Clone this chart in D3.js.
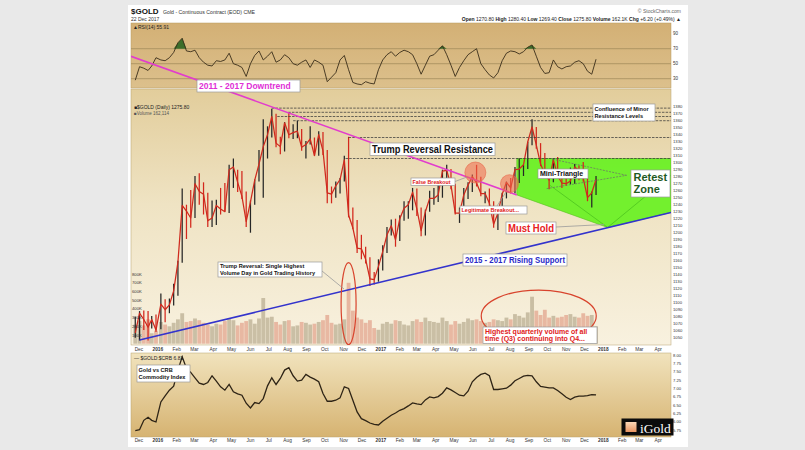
<!DOCTYPE html>
<html><head><meta charset="utf-8">
<script src="https://cdn.jsdelivr.net/npm/d3@7"></script>
<style>html,body{margin:0;padding:0;background:#e9e9e9;}svg{display:block;font-family:"Liberation Sans",Arial,sans-serif;}</style>
</head><body><svg id="c" width="805" height="450"></svg>
<script>
// ---------------- DATA (weekly) ----------------
const weeks = ["2015-11-27","2015-12-04","2015-12-11","2015-12-18","2015-12-24","2015-12-31",
"2016-01-08","2016-01-15","2016-01-22","2016-01-29","2016-02-05","2016-02-12","2016-02-19","2016-02-26",
"2016-03-04","2016-03-11","2016-03-18","2016-03-25","2016-04-01","2016-04-08","2016-04-15","2016-04-22","2016-04-29",
"2016-05-06","2016-05-13","2016-05-20","2016-05-27","2016-06-03","2016-06-10","2016-06-17","2016-06-24",
"2016-07-01","2016-07-08","2016-07-15","2016-07-22","2016-07-29","2016-08-05","2016-08-12","2016-08-19","2016-08-26",
"2016-09-02","2016-09-09","2016-09-16","2016-09-23","2016-09-30","2016-10-07","2016-10-14","2016-10-21","2016-10-28",
"2016-11-04","2016-11-11","2016-11-18","2016-11-25","2016-12-02","2016-12-09","2016-12-16","2016-12-23","2016-12-30",
"2017-01-06","2017-01-13","2017-01-20","2017-01-27","2017-02-03","2017-02-10","2017-02-17","2017-02-24",
"2017-03-03","2017-03-10","2017-03-17","2017-03-24","2017-03-31","2017-04-07","2017-04-14","2017-04-21","2017-04-28",
"2017-05-05","2017-05-12","2017-05-19","2017-05-26","2017-06-02","2017-06-09","2017-06-16","2017-06-23","2017-06-30",
"2017-07-07","2017-07-14","2017-07-21","2017-07-28","2017-08-04","2017-08-11","2017-08-18","2017-08-25",
"2017-09-01","2017-09-08","2017-09-15","2017-09-22","2017-09-29","2017-10-06","2017-10-13","2017-10-20","2017-10-27",
"2017-11-03","2017-11-10","2017-11-17","2017-11-24","2017-12-01","2017-12-08","2017-12-15","2017-12-22"];

const priceHigh = [1080,1088,1089,1088,1081,1083,
1113,1105,1106,1127,1160,1263,1240,1261,1281,1285,1272,1257,1246,1247,1264,1271,1297,1306,1290,1288,1259,1246,1276,1318,1362,
1352,1377,1370,1337,1358,1372,1355,1360,1348,1331,1352,1336,1345,1344,1318,1266,1273,1278,1310,1337,1236,1218,1197,1180,1165,1144,1162,
1182,1208,1219,1220,1225,1245,1245,1264,1263,1236,1233,1260,1264,1274,1290,1297,1291,1270,1236,1264,1272,1283,1297,1280,1259,1263,
1245,1233,1257,1273,1278,1294,1306,1297,1330,1362,1351,1328,1314,1287,1306,1308,1285,1289,1293,1298,1296,1301,1280,1259,1281];
const priceLow = [1050,1046,1061,1046,1063,1058,
1062,1072,1085,1096,1110,1157,1191,1207,1221,1240,1226,1208,1208,1211,1226,1230,1228,1264,1258,1248,1208,1200,1240,1273,1250,
1306,1336,1322,1312,1316,1335,1334,1335,1317,1306,1326,1310,1310,1311,1242,1242,1250,1256,1273,1222,1205,1171,1162,1156,1124,1126,1130,
1146,1171,1196,1180,1188,1217,1220,1232,1224,1195,1196,1230,1240,1244,1250,1275,1262,1226,1214,1228,1248,1258,1266,1252,1242,1236,
1207,1204,1228,1249,1256,1256,1271,1281,1291,1325,1320,1295,1281,1262,1272,1278,1264,1267,1269,1270,1275,1273,1245,1236,1254];
const priceClose = [1057,1085,1076,1065,1076,1061,
1098,1090,1097,1117,1158,1239,1231,1221,1270,1259,1255,1217,1221,1239,1234,1230,1290,1294,1272,1252,1216,1244,1275,1298,1323,
1340,1366,1328,1323,1357,1340,1343,1345,1322,1326,1334,1310,1340,1317,1257,1255,1267,1276,1304,1225,1207,1178,1177,1162,1134,1133,1152,
1173,1197,1210,1190,1220,1235,1240,1258,1234,1203,1230,1249,1249,1254,1288,1289,1268,1228,1228,1254,1268,1280,1271,1256,1256,1242,
1212,1228,1255,1272,1264,1290,1291,1297,1330,1351,1325,1298,1284,1275,1304,1281,1271,1270,1274,1294,1289,1278,1250,1257,1276];
const volumeK = [220,260,210,280,120,150,
250,220,200,240,280,350,250,260,290,270,240,220,200,230,220,260,290,270,210,240,260,280,230,290,525,
300,310,250,220,260,270,200,210,250,240,220,230,250,270,330,240,220,230,280,700,380,300,280,240,270,180,160,
230,250,230,270,260,220,210,260,280,250,300,260,250,240,300,260,220,260,230,250,290,270,280,260,240,250,
280,270,260,300,280,340,320,300,360,540,380,330,390,300,320,300,310,330,340,310,300,350,320,330,200];
const rsi14 = [28,46,44,41,47,58,
55,54,58,65,78,84,67,66,68,58,52,48,47,54,53,55,64,50,48,45,33,50,61,67,55,
60,66,52,55,62,58,50,48,52,55,45,55,52,48,26,32,38,55,61,42,25,23,22,26,24,23,42,
55,62,66,60,65,68,66,62,50,36,48,60,62,68,74,62,48,33,45,54,62,66,70,50,42,35,
31,38,54,64,67,66,63,66,72,75,60,45,37,38,55,46,43,46,47,52,54,50,40,36,56];
const goldCrb = [5.74,5.77,6.05,6.14,6.05,6.00,
6.60,6.78,6.95,7.07,7.55,7.95,7.60,7.48,7.32,7.16,7.12,7.18,7.38,7.22,7.05,6.95,7.12,6.90,6.84,6.80,6.56,6.42,6.58,6.55,6.70,
7.08,7.32,7.12,7.30,7.55,7.62,7.38,7.22,7.25,7.42,7.34,7.28,7.20,6.85,6.62,6.62,6.65,6.72,7.05,7.00,6.65,6.30,6.10,6.04,5.97,5.93,5.91,
6.02,6.11,6.20,6.27,6.35,6.40,6.48,6.57,6.54,6.52,6.66,6.75,6.72,6.76,6.86,7.02,6.96,6.88,6.80,6.78,6.92,7.20,7.33,7.42,7.46,7.38,
6.97,6.97,6.99,7.01,7.10,7.23,7.30,7.37,7.39,7.38,7.20,7.06,7.04,7.02,7.02,6.94,6.84,6.74,6.67,6.74,6.77,6.77,6.79,6.82,6.81];

const priceTicks = d3.range(1050, 1381, 10);
const volumeTicks = [100,200,300,400,500,600,700,800];
const rsiTicks = [90,70,50,30];
const rsiLevels = [70,50,30];
const ratioTicks = [8.00,7.75,7.50,7.25,7.00,6.75,6.50,6.25,6.00,5.75];

const resistance = [
  {from:"2016-07-06", level:1378},{from:"2016-08-02", level:1372},
  {from:"2016-07-15", level:1366},{from:"2016-08-10", level:1360},
  {from:"2016-11-09", level:1336},{from:"2016-11-04", level:1306}];
const downtrend = [["2015-11-18",1452],["2017-08-12",1254]];
const risingSupport = [["2015-12-02",1046.7],["2018-04-22",1229]];
const retestZone = [["2017-08-12",1306],["2018-04-22",1306],["2018-04-22",1229],["2018-01-08",1207.5],["2017-08-12",1254]];
const zoneInner = [[["2017-10-05",1268],["2018-01-08",1207.5]],[["2018-04-22",1282],["2018-01-08",1207.5]]];
const miniTriangle = [[["2017-10-10",1305],["2018-02-08",1282]],[["2017-09-30",1263],["2018-02-08",1282]]];
const breakoutCircles = [{date:"2017-06-05", price:1286, r:10.5},{date:"2017-07-31", price:1270, r:9}];
const volumeEllipses = [{date:"2016-11-09", vol:460, rx:7.5, ry:41},{date:"2017-09-17", vol:318, rx:57.5, ry:26}];

// ---------------- SETUP ----------------
const parse = d3.timeParse("%Y-%m-%d");
const W = weeks.map(parse);
const svg = d3.select("#c");
const L = 131, R = 671;
const x = d3.scaleTime().domain([parse("2015-11-18"), parse("2018-04-22")]).range([L, R]);
const rsiY = d3.scaleLinear().domain([17.6,104.3]).range([88,23]);
const priceY = d3.scaleLinear().domain([1039.6,1405.3]).range([345,89]);
const volY = d3.scaleLinear().domain([0,1000]).range([343.7,256.7]);
const ratioY = d3.scaleLinear().domain([5.552,8.06]).range([437,353]);
const xc = d => x(d3.timeDay.offset(d,-2));
const pt = p => [x(parse(p[0])), priceY(p[1])];

const defs = svg.append("defs");
function grad(id, stops){
  const g = defs.append("linearGradient").attr("id",id).attr("x1",0).attr("y1",0).attr("x2",0).attr("y2",1);
  stops.forEach(s=>g.append("stop").attr("offset",s[0]).attr("stop-color",s[1]));
}
grad("gRsi",[[0,"#d3b075"],[1,"#dcc08c"]]);
grad("gPrice",[[0,"#e2cd9b"],[0.45,"#efe3c3"],[1,"#f8f1df"]]);
grad("gRatio",[[0,"#f1e3bd"],[1,"#d6b371"]]);
grad("gLogo",[[0,"#fbd7b6"],[1,"#e89461"]]);
function clip(id,x0,y0,w,h){defs.append("clipPath").attr("id",id).append("rect").attr("x",x0).attr("y",y0).attr("width",w).attr("height",h);}
clip("cRsi",L,23,R-L,65); clip("cPrice",L,89,R-L,256); clip("cRatio",L,353,R-L,84); clip("cTrend",L,23,R-L,322);

// frame
svg.append("rect").attr("x",128).attr("y",5).attr("width",560).attr("height",442).attr("fill","#ffffff");

const small = (g,t,xx,yy,opt={})=>g.append("text").attr("x",xx).attr("y",yy).attr("font-size",opt.size||5)
  .attr("fill",opt.color||"#222").attr("font-weight",opt.weight||"normal").attr("text-anchor",opt.anchor||"start").text(t);

// ---------------- HEADER ----------------
const hd = svg.append("g");
small(hd,"$GOLD",131,14,{size:8,weight:"bold",color:"#111"});
small(hd,"Gold - Continuous Contract (EOD) CME",163,14,{size:5.2,color:"#333"});
small(hd,"22 Dec 2017",131,20.5,{size:5,color:"#333"});
small(hd,"© StockCharts.com",681,13,{size:5,color:"#666",anchor:"end"});
const ohl = hd.append("text").attr("x",681).attr("y",20.5).attr("font-size",5).attr("text-anchor","end").attr("fill","#222");
[["Open ",1],["1270.80 ",0],["High ",1],["1280.40 ",0],["Low ",1],["1269.40 ",0],["Close ",1],["1275.80 ",0],
 ["Volume ",1],["162.1K ",0],["Chg ",1],["+6.20 (+0.49%) ▲",0]].forEach(s=>ohl.append("tspan").attr("font-weight",s[1]?"bold":"normal").text(s[0]));

// ---------------- RSI PANEL ----------------
const rg = svg.append("g");
rg.append("rect").attr("x",L).attr("y",23).attr("width",R-L).attr("height",65).attr("fill","url(#gRsi)").attr("stroke","#b79a62").attr("stroke-width",0.5);
rg.selectAll("line.lv").data(rsiLevels).join("line").attr("x1",L).attr("x2",R).attr("y1",d=>rsiY(d)).attr("y2",d=>rsiY(d))
  .attr("stroke","#9c8558").attr("stroke-width",0.7);
rg.selectAll("text.tk").data(rsiTicks).join("text").attr("x",673).attr("y",d=>rsiY(d)+1.6).attr("font-size",4.5).attr("fill","#333").text(d=>d);
const rsiData = W.map((d,i)=>({d, v:rsi14[i]}));
const rc = rg.append("g").attr("clip-path","url(#cRsi)");
rc.append("path").datum(rsiData).attr("fill","#3c6e2a")
  .attr("d",d3.area().x(p=>xc(p.d)).y0(rsiY(70)).y1(p=>rsiY(Math.max(p.v,70))));
rc.append("path").datum(rsiData).attr("fill","none").attr("stroke","#3a2e1a").attr("stroke-width",0.9)
  .attr("d",d3.line().x(p=>xc(p.d)).y(p=>rsiY(p.v)));
small(rg,"▲RSI(14) 55.91",133,28.5,{size:5,color:"#222"});

// ---------------- PRICE PANEL ----------------
const pg = svg.append("g");
pg.append("rect").attr("x",L).attr("y",89).attr("width",R-L).attr("height",256).attr("fill","url(#gPrice)").attr("stroke","#b9a272").attr("stroke-width",0.5);
const pc = pg.append("g").attr("clip-path","url(#cPrice)");
// retest zone
pc.append("path").datum(retestZone).attr("d",d=>"M"+d.map(pt).join("L")+"Z").attr("fill","#6cf026").attr("fill-opacity",0.95).attr("stroke","#58c020").attr("stroke-width",0.6);
zoneInner.forEach(seg=>pc.append("path").attr("d","M"+seg.map(pt).join("L")).attr("stroke","#4cc41e").attr("stroke-width",0.8).attr("fill","none"));
// volume
const bw = x(parse("2016-01-08"))-x(parse("2016-01-01"));
pc.selectAll("rect.vol").data(W).join("rect")
  .attr("x",(d,i)=>xc(d)-bw*0.45).attr("width",bw*0.9)
  .attr("y",(d,i)=>volY(volumeK[i])).attr("height",(d,i)=>volY(0)-volY(volumeK[i]))
  .attr("fill",(d,i)=> (i>0 && priceClose[i]<priceClose[i-1]) ? "#de927c" : "#ab9f80").attr("fill-opacity",0.6);
// price HL bars
pc.selectAll("line.hl").data(W).join("line")
  .attr("x1",d=>xc(d)).attr("x2",d=>xc(d))
  .attr("y1",(d,i)=>priceY(priceHigh[i])).attr("y2",(d,i)=>priceY(priceLow[i]))
  .attr("stroke",(d,i)=> (i>0 && priceClose[i]<priceClose[i-1]) ? "#d3271c" : "#262626").attr("stroke-width",1.25);
pc.append("path").datum(W).attr("fill","none").attr("stroke","#cf2a1e").attr("stroke-width",1.25).attr("stroke-linejoin","round")
  .attr("d",d3.line().x(d=>xc(d)).y((d,i)=>priceY(priceClose[i])));
// resistance levels
pc.selectAll("line.res").data(resistance).join("line")
  .attr("x1",d=>x(parse(d.from))).attr("x2",R).attr("y1",d=>priceY(d.level)).attr("y2",d=>priceY(d.level))
  .attr("stroke","#3a3a3a").attr("stroke-width",0.75).attr("stroke-dasharray","2.5,1.2");
// volume axis labels
pg.selectAll("text.vt").data(volumeTicks).join("text").attr("x",132).attr("y",d=>volY(d*1)+1.5).attr("font-size",4.2).attr("fill","#333").text(d=>d+"K");
// price axis labels
pg.selectAll("text.pt").data(priceTicks).join("text").attr("x",673).attr("y",d=>priceY(d)+1.5).attr("font-size",4.2).attr("fill","#333").text(d=>d);
small(pg,"■$GOLD (Daily) 1275.80",134,108.5,{size:5,color:"#222"});
small(pg,"■Volume 162,114",134,114.5,{size:4.5,color:"#555"});

// trend lines
const tg = svg.append("g").attr("clip-path","url(#cTrend)");
tg.append("path").attr("d","M"+downtrend.map(pt).join("L")).attr("stroke","#e23ccd").attr("stroke-width",1.6).attr("fill","none");
tg.append("path").attr("d","M"+risingSupport.map(pt).join("L")).attr("stroke","#3333cc").attr("stroke-width",1.6).attr("fill","none");
miniTriangle.forEach(seg=>tg.append("path").attr("d","M"+seg.map(pt).join("L")).attr("stroke","#6a6a6a").attr("stroke-width",0.7).attr("stroke-dasharray","2,1.2").attr("fill","none"));
// circles & ellipses
tg.selectAll("circle.bo").data(breakoutCircles).join("circle")
  .attr("cx",d=>x(parse(d.date))).attr("cy",d=>priceY(d.price)).attr("r",d=>d.r)
  .attr("fill","#f0674a").attr("fill-opacity",0.55).attr("stroke","#e8664a").attr("stroke-width",0.6);
tg.selectAll("ellipse.ve").data(volumeEllipses).join("ellipse")
  .attr("cx",d=>x(parse(d.date))).attr("cy",d=>volY(d.vol)).attr("rx",d=>d.rx).attr("ry",d=>d.ry)
  .attr("fill","none").attr("stroke","#d8432c").attr("stroke-width",1.2);

// ---------------- X AXIS LABELS ----------------
const months = d3.timeMonth.range(parse("2015-12-01"), parse("2018-05-01"));
[350.5, 442].forEach(yy=>{
  svg.append("g").selectAll("text").data(months).join("text")
    .attr("x",d=>x(d)).attr("y",yy).attr("text-anchor","middle").attr("font-size",4.8)
    .attr("font-weight",d=>d.getMonth()===0?"bold":"normal").attr("fill","#333")
    .text(d=>d.getMonth()===0?d3.timeFormat("%Y")(d):d3.timeFormat("%b")(d));
});

// ---------------- RATIO PANEL ----------------
const bg = svg.append("g");
bg.append("rect").attr("x",L).attr("y",353).attr("width",R-L).attr("height",84).attr("fill","url(#gRatio)").attr("stroke","#b9a272").attr("stroke-width",0.5);
bg.selectAll("text.rt").data(ratioTicks).join("text").attr("x",673).attr("y",d=>ratioY(d)+1.5).attr("font-size",4.2).attr("fill","#333").text(d=>d.toFixed(2));
bg.append("g").attr("clip-path","url(#cRatio)").append("path").datum(W).attr("fill","none").attr("stroke","#2e2416").attr("stroke-width",1.3)
  .attr("d",d3.line().x(d=>xc(d)).y((d,i)=>ratioY(goldCrb[i])));
small(bg,"— $GOLD:$CRB 6.81",134,359.5,{size:5,color:"#222"});
// logo
const lg = svg.append("g");
lg.append("rect").attr("x",621.5).attr("y",418.5).attr("width",52).attr("height",17).attr("fill","#0b0b0b");
lg.append("rect").attr("x",625.5).attr("y",422).attr("width",11).attr("height",10).attr("fill","url(#gLogo)");
lg.append("text").attr("x",640).attr("y",432.5).attr("font-family","'Liberation Serif',serif").attr("font-size",13.5).attr("fill","#fff").text("iGold");

// ---------------- ANNOTATIONS ----------------
const ag = svg.append("g");
function note(o){
  ag.append("rect").attr("x",o.x).attr("y",o.y).attr("width",o.w).attr("height",o.h).attr("fill","#fff").attr("stroke","#9a9a9a").attr("stroke-width",0.7);
  const lh = o.lh || o.size*1.15, n = o.lines.length, pad = o.pad==null?2:o.pad;
  const b0 = o.y + (o.h - n*lh)/2 + lh*0.8;
  o.lines.forEach((t,i)=>{
    const tx = ag.append("text").attr("x",o.x+pad).attr("y",b0+i*lh).attr("font-size",o.size).attr("font-weight","bold").attr("fill",o.color).text(t);
    const maxw = o.w - 2*pad, cw = tx.node().getComputedTextLength();
    if (cw > maxw) tx.attr("textLength",maxw).attr("lengthAdjust","spacingAndGlyphs");
  });
}
function pointer(a,b){ag.append("line").attr("x1",a[0]).attr("y1",a[1]).attr("x2",b[0]).attr("y2",b[1]).attr("stroke","#9a9a9a").attr("stroke-width",0.8);}
pointer([455,181.5],[467,177]);
pointer([497,206],[506,192]);
pointer([556,227],[604,224.5]);
pointer([322,271],[344,289]);
note({x:197,y:80,w:103,h:12,lines:["2011 - 2017 Downtrend"],size:8.5,color:"#e030d6"});
note({x:370,y:143,w:125,h:12.5,lines:["Trump Reversal Resistance"],size:10,color:"#111"});
note({x:411,y:178,w:44,h:7.5,lines:["False Breakout"],size:5.3,color:"#e02020",pad:1.5});
note({x:460,y:206,w:67,h:8,lines:["Legitimate Breakout..."],size:5.5,color:"#e02020",pad:1.5});
note({x:506,y:222,w:50,h:12,lines:["Must Hold"],size:11,color:"#e82222"});
note({x:538,y:169,w:50,h:9.5,lines:["Mini-Triangle"],size:7,color:"#111"});
note({x:631,y:170,w:39,h:27,lines:["Retest","Zone"],size:11,color:"#1f5a1f",lh:12,pad:2.5});
note({x:593,y:104,w:62,h:17,lines:["Confluence of Minor","Resistance Levels"],size:5.6,color:"#111",lh:6.6,pad:1.5});
note({x:463,y:254,w:104,h:12,lines:["2015 - 2017 Rising Support"],size:8.5,color:"#2a2ac8"});
note({x:218,y:262,w:104,h:15,lines:["Trump Reversal: Single Highest","Volume Day in Gold Trading History"],size:5.6,color:"#111",lh:6.4,pad:2});
note({x:483,y:327,w:114,h:16.5,lines:["Highest quarterly volume of all","time (Q3) continuing into Q4..."],size:7,color:"#e02020",lh:7.5,pad:2});
note({x:137,y:365,w:53,h:17,lines:["Gold vs CRB","Commodity Index"],size:5.6,color:"#111",lh:6.6,pad:1.5});
</script></body></html>
